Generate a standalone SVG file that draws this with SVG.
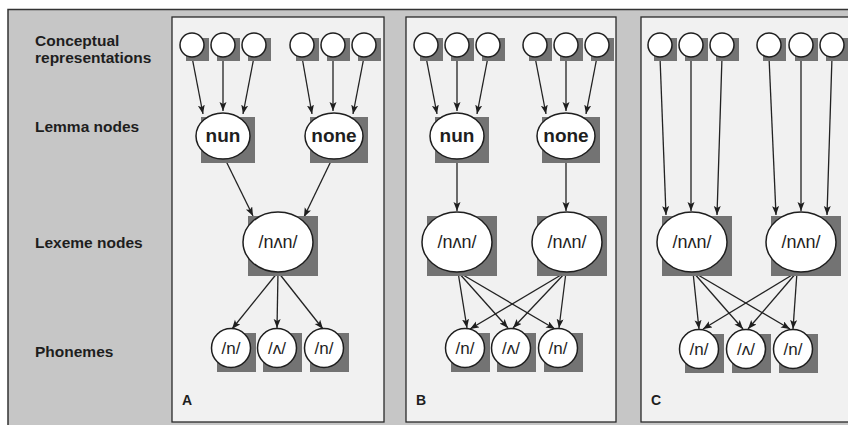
<svg xmlns="http://www.w3.org/2000/svg" width="848" height="425" viewBox="0 0 848 425">
  <style>
    .frame { fill: #c6c6c6; stroke: #333; stroke-width: 1.5; }
    .panel { fill: #f1f1f1; stroke: #2a2a2a; stroke-width: 1.3; }
    .shadow { fill: #737373; }
    .node { fill: #ffffff; stroke: #1e1e1e; stroke-width: 1.5; }
    .rowlabel { font-family: "Liberation Sans", Arial, sans-serif; font-weight: bold; font-size: 15.5px; fill: #1e1e1e; }
    .letter { font-family: "Liberation Sans", Arial, sans-serif; font-weight: bold; font-size: 14px; fill: #1e1e1e; }
    .lemma { font-family: "Liberation Sans", Arial, sans-serif; font-weight: bold; font-size: 19px; fill: #1e1e1e; text-anchor: middle; }
    .lex { font-family: "Liberation Sans", "DejaVu Sans", Arial, sans-serif; font-size: 18px; fill: #1e1e1e; text-anchor: middle; }
    .phon { font-family: "Liberation Sans", "DejaVu Sans", Arial, sans-serif; font-size: 17px; fill: #1e1e1e; text-anchor: middle; }
    .edge { stroke: #222; stroke-width: 1.3; fill: none; marker-end: url(#arrow); }
  </style>
  <defs>
    <marker id="arrow" markerUnits="userSpaceOnUse" markerWidth="10" markerHeight="8" refX="9" refY="3.5" orient="auto">
      <path d="M0,0 L9,3.5 L0,7 L2,3.5 z" fill="#1e1e1e"/>
    </marker>
  </defs>

  <!-- background frame -->
  <rect x="0" y="0" width="848" height="425" fill="#ffffff"/>
  <rect class="frame" x="8" y="9.5" width="860" height="420"/>

  <!-- row labels -->
  <g id="row-labels">
    <text class="rowlabel" x="35" y="46">Conceptual</text>
    <text class="rowlabel" x="35" y="63">representations</text>
    <text class="rowlabel" x="35" y="132">Lemma nodes</text>
    <text class="rowlabel" x="35" y="248">Lexeme nodes</text>
    <text class="rowlabel" x="35" y="357">Phonemes</text>
  </g>

  <!-- panels -->
  <g id="panel-A">
    <rect class="panel" x="172" y="17" width="212" height="405"/>
    <text class="letter" x="182" y="405">A</text>
  </g>
  <g id="panel-B">
    <rect class="panel" x="406" y="17" width="210" height="405"/>
    <text class="letter" x="416" y="405">B</text>
  </g>
  <g id="panel-C">
    <rect class="panel" x="641" y="17" width="230" height="405"/>
    <text class="letter" x="651" y="405">C</text>
  </g>

  <!-- connectors -->
  <g id="connectors">
    <!-- A: concepts to lemmas -->
    <line class="edge" x1="192" y1="57" x2="203" y2="114"/>
    <line class="edge" x1="223" y1="57" x2="223" y2="111"/>
    <line class="edge" x1="254" y1="57" x2="243" y2="114"/>
    <line class="edge" x1="302" y1="57" x2="312" y2="114"/>
    <line class="edge" x1="333" y1="57" x2="333" y2="111"/>
    <line class="edge" x1="364" y1="57" x2="353" y2="114"/>
    <!-- A: lemmas to lexeme -->
    <line class="edge" x1="225" y1="159" x2="253" y2="216"/>
    <line class="edge" x1="332" y1="159" x2="304" y2="217"/>
    <!-- A: lexeme to phonemes -->
    <line class="edge" x1="278" y1="272" x2="232" y2="329"/>
    <line class="edge" x1="278" y1="272" x2="277" y2="328"/>
    <line class="edge" x1="278" y1="272" x2="323" y2="329"/>

    <!-- B: concepts to lemmas -->
    <line class="edge" x1="426" y1="57" x2="437" y2="114"/>
    <line class="edge" x1="457" y1="57" x2="457" y2="111"/>
    <line class="edge" x1="488" y1="57" x2="477" y2="114"/>
    <line class="edge" x1="535" y1="57" x2="546" y2="114"/>
    <line class="edge" x1="566" y1="57" x2="566" y2="111"/>
    <line class="edge" x1="597" y1="57" x2="586" y2="114"/>
    <!-- B: lemmas to lexemes -->
    <line class="edge" x1="457" y1="159" x2="457" y2="211"/>
    <line class="edge" x1="566" y1="159" x2="566" y2="211"/>
    <!-- B: lexemes to phonemes -->
    <line class="edge" x1="458" y1="272" x2="467" y2="328"/>
    <line class="edge" x1="458" y1="272" x2="508" y2="328"/>
    <line class="edge" x1="458" y1="272" x2="555" y2="329"/>
    <line class="edge" x1="566" y1="272" x2="470" y2="329"/>
    <line class="edge" x1="566" y1="272" x2="513" y2="328"/>
    <line class="edge" x1="566" y1="272" x2="559" y2="328"/>

    <!-- C: concepts to lexemes -->
    <line class="edge" x1="660" y1="57" x2="666" y2="215"/>
    <line class="edge" x1="691" y1="57" x2="691" y2="211"/>
    <line class="edge" x1="722" y1="57" x2="717" y2="215"/>
    <line class="edge" x1="769" y1="57" x2="776" y2="215"/>
    <line class="edge" x1="801" y1="57" x2="801" y2="211"/>
    <line class="edge" x1="832" y1="57" x2="827" y2="215"/>
    <!-- C: lexemes to phonemes -->
    <line class="edge" x1="693" y1="272" x2="699" y2="329"/>
    <line class="edge" x1="693" y1="272" x2="743" y2="329"/>
    <line class="edge" x1="693" y1="272" x2="790" y2="329"/>
    <line class="edge" x1="797" y1="272" x2="703" y2="329"/>
    <line class="edge" x1="797" y1="272" x2="748" y2="329"/>
    <line class="edge" x1="797" y1="272" x2="793" y2="329"/>
  </g>

  <!-- A nodes -->
  <g id="A-concept-1"><rect class="shadow" x="186" y="38" width="23" height="23"/><circle class="node" cx="192" cy="45" r="12"/></g>
  <g id="A-concept-2"><rect class="shadow" x="217" y="38" width="23" height="23"/><circle class="node" cx="223" cy="45" r="12"/></g>
  <g id="A-concept-3"><rect class="shadow" x="248" y="38" width="23" height="23"/><circle class="node" cx="254" cy="45" r="12"/></g>
  <g id="A-concept-4"><rect class="shadow" x="296" y="38" width="23" height="23"/><circle class="node" cx="302" cy="45" r="12"/></g>
  <g id="A-concept-5"><rect class="shadow" x="327" y="38" width="23" height="23"/><circle class="node" cx="333" cy="45" r="12"/></g>
  <g id="A-concept-6"><rect class="shadow" x="358" y="38" width="23" height="23"/><circle class="node" cx="364" cy="45" r="12"/></g>

  <g id="A-lemma-nun"><rect class="shadow" x="201" y="117" width="54" height="46"/><ellipse class="node" cx="223" cy="136" rx="27" ry="23"/><text class="lemma" x="223" y="142">nun</text></g>
  <g id="A-lemma-none"><rect class="shadow" x="310" y="117" width="58" height="46"/><ellipse class="node" cx="334" cy="136" rx="29" ry="23"/><text class="lemma" x="334" y="142">none</text></g>

  <g id="A-lexeme"><rect class="shadow" x="248" y="216" width="70" height="60"/><ellipse class="node" cx="278" cy="242" rx="35" ry="30"/><text class="lex" x="278" y="248">/nʌn/</text></g>

  <g id="A-phon-1"><rect class="shadow" x="217" y="333" width="39" height="39"/><circle class="node" cx="231" cy="348" r="19.5"/><text class="phon" x="231" y="354">/n/</text></g>
  <g id="A-phon-2"><rect class="shadow" x="263" y="333" width="39" height="39"/><circle class="node" cx="277" cy="348" r="19.5"/><text class="phon" x="277" y="354">/ʌ/</text></g>
  <g id="A-phon-3"><rect class="shadow" x="310" y="333" width="39" height="39"/><circle class="node" cx="324" cy="348" r="19.5"/><text class="phon" x="324" y="354">/n/</text></g>

  <!-- B nodes -->
  <g id="B-concept-1"><rect class="shadow" x="420" y="38" width="23" height="23"/><circle class="node" cx="426" cy="45" r="12"/></g>
  <g id="B-concept-2"><rect class="shadow" x="451" y="38" width="23" height="23"/><circle class="node" cx="457" cy="45" r="12"/></g>
  <g id="B-concept-3"><rect class="shadow" x="482" y="38" width="23" height="23"/><circle class="node" cx="488" cy="45" r="12"/></g>
  <g id="B-concept-4"><rect class="shadow" x="529" y="38" width="23" height="23"/><circle class="node" cx="535" cy="45" r="12"/></g>
  <g id="B-concept-5"><rect class="shadow" x="560" y="38" width="23" height="23"/><circle class="node" cx="566" cy="45" r="12"/></g>
  <g id="B-concept-6"><rect class="shadow" x="591" y="38" width="23" height="23"/><circle class="node" cx="597" cy="45" r="12"/></g>

  <g id="B-lemma-nun"><rect class="shadow" x="435" y="117" width="54" height="46"/><ellipse class="node" cx="457" cy="136" rx="27" ry="23"/><text class="lemma" x="457" y="142">nun</text></g>
  <g id="B-lemma-none"><rect class="shadow" x="542" y="117" width="58" height="46"/><ellipse class="node" cx="566" cy="136" rx="29" ry="23"/><text class="lemma" x="566" y="142">none</text></g>

  <g id="B-lexeme-1"><rect class="shadow" x="427" y="216" width="70" height="60"/><ellipse class="node" cx="457" cy="242" rx="35" ry="30"/><text class="lex" x="457" y="248">/nʌn/</text></g>
  <g id="B-lexeme-2"><rect class="shadow" x="537" y="216" width="70" height="60"/><ellipse class="node" cx="567" cy="242" rx="35" ry="30"/><text class="lex" x="567" y="248">/nʌn/</text></g>

  <g id="B-phon-1"><rect class="shadow" x="451" y="333" width="39" height="39"/><circle class="node" cx="465" cy="348" r="19.5"/><text class="phon" x="465" y="354">/n/</text></g>
  <g id="B-phon-2"><rect class="shadow" x="497" y="333" width="39" height="39"/><circle class="node" cx="511" cy="348" r="19.5"/><text class="phon" x="511" y="354">/ʌ/</text></g>
  <g id="B-phon-3"><rect class="shadow" x="544" y="333" width="39" height="39"/><circle class="node" cx="558" cy="348" r="19.5"/><text class="phon" x="558" y="354">/n/</text></g>

  <!-- C nodes -->
  <g id="C-concept-1"><rect class="shadow" x="654" y="38" width="23" height="23"/><circle class="node" cx="660" cy="45" r="12"/></g>
  <g id="C-concept-2"><rect class="shadow" x="685" y="38" width="23" height="23"/><circle class="node" cx="691" cy="45" r="12"/></g>
  <g id="C-concept-3"><rect class="shadow" x="716" y="38" width="23" height="23"/><circle class="node" cx="722" cy="45" r="12"/></g>
  <g id="C-concept-4"><rect class="shadow" x="763" y="38" width="23" height="23"/><circle class="node" cx="769" cy="45" r="12"/></g>
  <g id="C-concept-5"><rect class="shadow" x="795" y="38" width="23" height="23"/><circle class="node" cx="801" cy="45" r="12"/></g>
  <g id="C-concept-6"><rect class="shadow" x="826" y="38" width="23" height="23"/><circle class="node" cx="832" cy="45" r="12"/></g>

  <g id="C-lexeme-1"><rect class="shadow" x="662" y="216" width="70" height="60"/><ellipse class="node" cx="692" cy="242" rx="35" ry="30"/><text class="lex" x="692" y="248">/nʌn/</text></g>
  <g id="C-lexeme-2"><rect class="shadow" x="771" y="216" width="70" height="60"/><ellipse class="node" cx="801" cy="242" rx="35" ry="30"/><text class="lex" x="801" y="248">/nʌn/</text></g>

  <g id="C-phon-1"><rect class="shadow" x="685" y="334" width="39" height="39"/><circle class="node" cx="699" cy="349" r="19.5"/><text class="phon" x="699" y="355">/n/</text></g>
  <g id="C-phon-2"><rect class="shadow" x="732" y="334" width="39" height="39"/><circle class="node" cx="746" cy="349" r="19.5"/><text class="phon" x="746" y="355">/ʌ/</text></g>
  <g id="C-phon-3"><rect class="shadow" x="779" y="334" width="39" height="39"/><circle class="node" cx="793" cy="349" r="19.5"/><text class="phon" x="793" y="355">/n/</text></g>
</svg>
